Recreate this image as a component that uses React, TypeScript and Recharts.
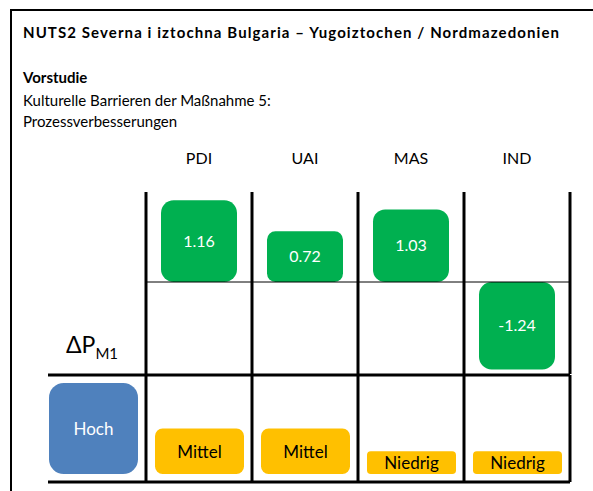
import React from 'react';
import {
  BarChart,
  Bar,
  XAxis,
  YAxis,
  CartesianGrid,
  ReferenceLine,
  LabelList,
  Cell,
} from 'recharts';

// cultural dimensions and their ΔP values
const dimensions = ['PDI', 'UAI', 'MAS', 'IND'];
const deltaValues = [1.16, 0.72, 1.03, -1.24];

// bottom row: overall level + level per dimension
const levelCategories = ['ΔP', 'PDI', 'UAI', 'MAS', 'IND'];
const levelNames = ['Hoch', 'Mittel', 'Mittel', 'Niedrig', 'Niedrig'];
const levelScore: Record<string, number> = { Niedrig: 1, Mittel: 2, Hoch: 4 };

const topData = dimensions.map((name, i) => ({ name, value: deltaValues[i] }));
const levelData = levelCategories.map((name, i) => ({
  name,
  level: levelNames[i],
  score: levelScore[levelNames[i]],
}));

const FONT = 'Lato, "Noto Sans", sans-serif';
const GREEN = '#00B050';
const YELLOW = '#FFC000';
const BLUE = '#4F81BD';
const PAD = 8;

// rounded box like the PowerPoint shapes
const RoundBox = (props: any) => {
  const { x, y, width, height, fill } = props;
  const top = Math.min(y, y + height);
  const h = Math.abs(height);
  const r = Math.min(width, h) * 0.1667;
  return <rect x={x} y={top} width={width} height={h} rx={r} ry={r} fill={fill} />;
};

const LevelLabel = (props: any) => {
  const { x, y, width, height, value } = props;
  return (
    <text
      x={x + width / 2}
      y={y + height / 2}
      textAnchor="middle"
      dominantBaseline="central"
      fontSize={17}
      fontFamily={FONT}
      fill={value === 'Hoch' ? '#fff' : '#000'}
    >
      {value}
    </text>
  );
};

export default function App() {
  return (
    <div
      style={{
        position: 'absolute',
        left: 0,
        top: 0,
        width: 593,
        height: 491,
        background: '#fff',
        overflow: 'hidden',
        fontFamily: FONT,
      }}
    >
      <div
        style={{
          position: 'absolute',
          left: 10,
          top: 9,
          width: 600,
          height: 500,
          borderTop: '2px solid #000',
          borderLeft: '2px solid #000',
        }}
      />
      <svg width={593} height={491} style={{ position: 'absolute', left: 0, top: 0 }}>
        <text
          x={23}
          y={38}
          fontSize={15}
          fontWeight="bold"
          fontFamily={FONT}
          textLength={536}
          lengthAdjust="spacing"
        >
          NUTS2 Severna i iztochna Bulgaria – Yugoiztochen / Nordmazedonien
        </text>
        <text x={23} y={83} fontSize={15} fontWeight="bold" fontFamily={FONT}>
          Vorstudie
        </text>
        <text x={23} y={106} fontSize={15} fontFamily={FONT}>
          Kulturelle Barrieren der Maßnahme 5:
        </text>
        <text x={23} y={127} fontSize={15} fontFamily={FONT}>
          Prozessverbesserungen
        </text>
        <text x={66} y={353} fontSize={23} fontFamily={FONT}>
          ΔP
          <tspan fontSize={15} dy={6}>
            M1
          </tspan>
        </text>
      </svg>

      <div style={{ position: 'absolute', left: 0, top: 0 }}>
        <BarChart
          width={593}
          height={491}
          data={topData}
          margin={{ top: 132, right: 23, bottom: 117, left: 146 }}
          barCategoryGap={0}
        >
          <CartesianGrid
            horizontal={false}
            stroke="#000"
            strokeWidth={3}
            verticalCoordinatesGenerator={({ offset }: any) =>
              [0, 1, 2, 3, 4].map((i) => offset.left + (offset.width * i) / 4)
            }
          />
          <XAxis
            dataKey="name"
            orientation="top"
            height={60}
            axisLine={false}
            tickLine={false}
            tickSize={0}
            tickMargin={28}
            interval={0}
            tick={{ fill: '#000', fontSize: 16, fontFamily: FONT }}
          />
          <YAxis hide domain={[-1.305, 1.277]} />
          <ReferenceLine y={0} stroke="#000" strokeWidth={1} />
          <Bar
            dataKey="value"
            fill={GREEN}
            barSize={76}
            shape={RoundBox}
            isAnimationActive={false}
          >
            <LabelList
              dataKey="value"
              position="center"
              fill="#fff"
              fontSize={16}
              fontFamily={FONT}
            />
          </Bar>
        </BarChart>
      </div>

      <div style={{ position: 'absolute', left: 0, top: 0 }}>
        <BarChart
          width={593}
          height={491}
          data={levelData}
          margin={{ top: 375, right: 23, bottom: 9, left: 48 }}
          barCategoryGap={0}
        >
          <CartesianGrid
            stroke="#000"
            strokeWidth={3}
            horizontalCoordinatesGenerator={({ offset }: any) => [
              offset.top,
              offset.top + offset.height,
            ]}
            verticalCoordinatesGenerator={({ offset }: any) => {
              const band = (offset.width + PAD) / levelCategories.length;
              return [1, 2, 3, 4, 5].map((k) => offset.left - PAD + band * k);
            }}
          />
          <XAxis dataKey="name" hide padding={{ left: -PAD, right: 0 }} />
          <YAxis hide domain={[-0.35, 4.35]} />
          <Bar dataKey="score" barSize={89} shape={RoundBox} isAnimationActive={false}>
            {levelData.map((d) => (
              <Cell key={d.name} fill={d.level === 'Hoch' ? BLUE : YELLOW} />
            ))}
            <LabelList dataKey="level" content={LevelLabel} />
          </Bar>
        </BarChart>
      </div>
    </div>
  );
}
